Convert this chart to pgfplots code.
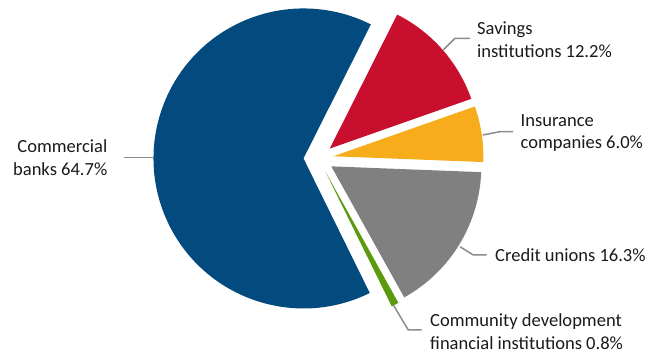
\documentclass[border=0pt]{standalone}
\usepackage{pgfplots}
\pgfplotsset{compat=1.18}
\usepackage{fontspec}
\setmainfont{Carlito}
\definecolor{cbank}{HTML}{034A7E}
\definecolor{csav}{HTML}{C8102E}
\definecolor{cins}{HTML}{F7AC1B}
\definecolor{ccu}{HTML}{808080}
\definecolor{ccd}{HTML}{5B9A0C}
\definecolor{clead}{HTML}{8C8C8C}
\definecolor{ctext}{HTML}{1A1A1A}
\tikzset{lab/.style={inner sep=0pt, text=ctext, font=\fontsize{18.6}{22.7}\selectfont}}
\begin{document}
\begin{tikzpicture}
% shares in percent
\def\vSav{12.2}\def\vIns{6.0}\def\vCU{16.3}\def\vCD{0.8}\def\vCB{64.7}
\def\startang{63.3}
\pgfmathsetmacro\aA{\startang}
\pgfmathsetmacro\aB{\aA-3.6*\vSav}
\pgfmathsetmacro\aC{\aB-3.6*\vIns}
\pgfmathsetmacro\aD{\aC-3.6*\vCU}
\pgfmathsetmacro\aE{\aD-3.6*\vCD}
\pgfmathsetmacro\aF{\aE-3.6*\vCB}
\pgfmathsetmacro\mA{(\aA+\aB)/2}
\pgfmathsetmacro\mB{(\aB+\aC)/2}
\pgfmathsetmacro\mC{(\aC+\aD)/2}
\pgfmathsetmacro\mD{(\aD+\aE)/2}
\pgfmathsetmacro\mE{(\aE+\aF)/2}
\begin{axis}[scale only axis, width=657bp, height=354bp,
  xmin=0, xmax=657, ymin=0, ymax=354, hide axis, clip=false]
\path (axis cs:0,0) rectangle (axis cs:657,354);
\fill[csav, shift={(\mA:15bp)}] (axis cs:318.5,195.5) -- ++(\aA:150bp) arc[start angle=\aA, end angle=\aB, radius=150bp] -- cycle;
\fill[cins, shift={(\mB:15bp)}] (axis cs:318.5,195.5) -- ++(\aB:150bp) arc[start angle=\aB, end angle=\aC, radius=150bp] -- cycle;
\fill[ccu, shift={(\mC:15bp)}] (axis cs:318.5,195.5) -- ++(\aC:150bp) arc[start angle=\aC, end angle=\aD, radius=150bp] -- cycle;
\fill[ccd, shift={(\mD:15bp)}] (axis cs:318.5,195.5) -- ++(\aD:150bp) arc[start angle=\aD, end angle=\aE, radius=150bp] -- cycle;
\fill[cbank, shift={(\mE:15bp)}] (axis cs:318.5,195.5) -- ++(\aE:150bp) arc[start angle=\aE, end angle=\aF, radius=150bp] -- cycle;
% leader lines
\draw[clead, line width=1.5bp] (axis cs:124,196.7) -- (axis cs:154,196.7);
\draw[clead, line width=1.5bp] (axis cs:443.3,304) -- (axis cs:455,315.7) -- (axis cs:470,315.7);
\draw[clead, line width=1.5bp] (axis cs:482.7,219) -- (axis cs:500,222.3) -- (axis cs:513,222.3);
\draw[clead, line width=1.5bp] (axis cs:460,107.3) -- (axis cs:473.3,99) -- (axis cs:486.7,99);
\draw[clead, line width=1.5bp] (axis cs:393.3,49) -- (axis cs:408.3,24) -- (axis cs:421.7,24);
% labels
\node[lab, anchor=east, align=right] at (axis cs:107.5,196.5) {Commercial\\banks 64.7\%};
\node[lab, anchor=west, align=left] at (axis cs:477,314.5) {Savings\\institutions 12.2\%};
\node[lab, anchor=west, align=left] at (axis cs:520.5,221) {Insurance\\companies 6.0\%};
\node[lab, anchor=west, align=left] at (axis cs:495,99) {Credit unions 16.3\%};
\node[lab, anchor=west, align=left] at (axis cs:430,22.3) {Community development\\financial institutions 0.8\%};
\end{axis}
\end{tikzpicture}
\end{document}
